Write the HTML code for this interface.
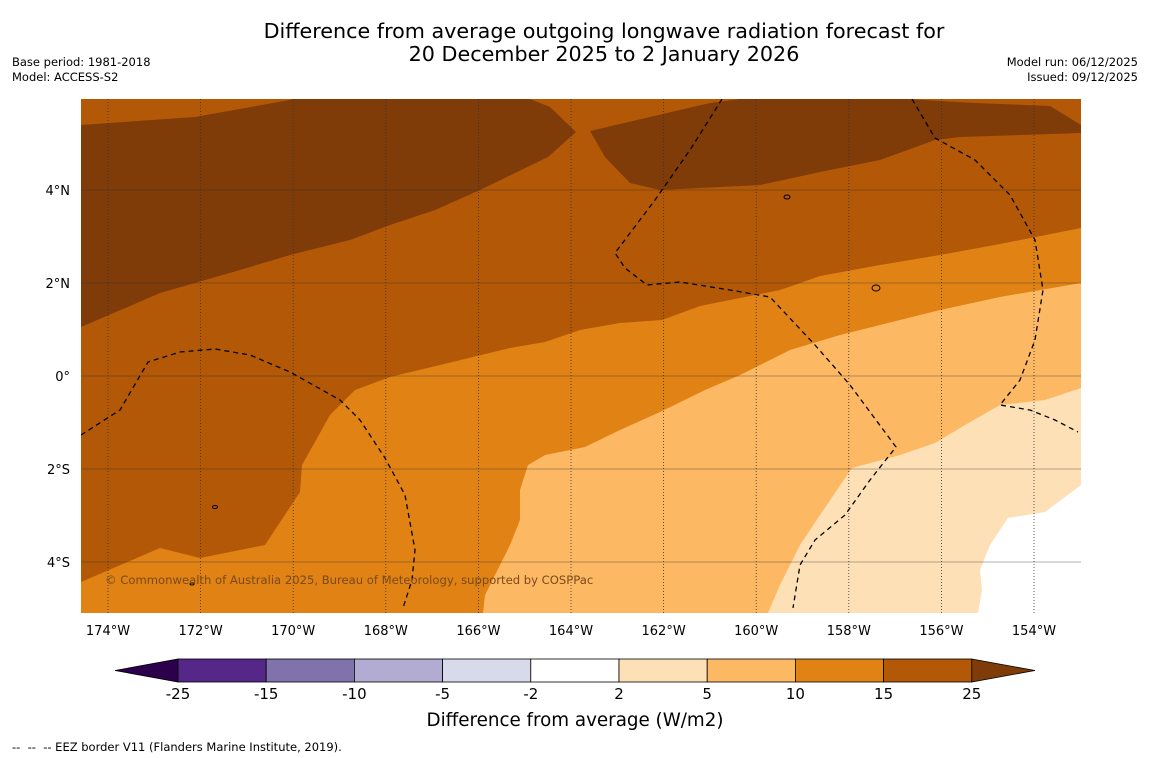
<!DOCTYPE html>
<html><head><meta charset="utf-8"><style>
body{margin:0;background:#fff;width:1150px;height:758px;overflow:hidden;font-family:"DejaVu Sans","Liberation Sans",sans-serif}
svg{position:absolute;left:0;top:0}
</style></head><body>
<svg id="chart" width="1150" height="758">
<text x="604" y="38" text-anchor="middle" font-size="20.7">Difference from average outgoing longwave radiation forecast for</text>
<text x="604" y="61" text-anchor="middle" font-size="20.7">20 December 2025 to 2 January 2026</text>
<text x="12" y="66" font-size="11.5">Base period: 1981-2018</text>
<text x="12" y="81" font-size="11.5">Model: ACCESS-S2</text>
<text x="1138" y="66" font-size="11.5" text-anchor="end">Model run: 06/12/2025</text>
<text x="1138" y="81" font-size="11.5" text-anchor="end">Issued: 09/12/2025</text>
<defs><clipPath id="mc"><rect x="81" y="99" width="1000" height="514"/></clipPath></defs>
<g clip-path="url(#mc)">
<rect x="81" y="99" width="1000" height="514" fill="#b35806"/>
<polygon fill="#7f3b08" points="81,125 195,117 295,99 530,99 550,107 576,132 548,157 480,190 435,210 390,225 350,240 290,255 240,270 160,293 81,327"/>
<polygon fill="#7f3b08" points="590,131 650,117 710,103 740,99 905,99 975,103 1050,106 1081,125 1081,133 960,137 935,140 880,160 820,172 760,185 700,188 660,190 630,183 605,157"/>
<polygon fill="#e08214" points="81,582 160,548 200,558 265,545 300,492 302,465 330,415 355,390 390,377 440,365 510,348 545,342 580,330 620,323 662,320 700,306 780,290 820,276 880,265 940,255 1000,244 1081,228 1081,613 81,613"/>
<polygon fill="#fdb863" points="483,613 485,595 510,545 520,520 520,490 528,465 545,455 585,447 620,430 660,412 705,390 740,375 790,350 840,335 900,320 940,310 1000,297 1081,283 1081,613"/>
<polygon fill="#fee0b6" points="768,613 780,585 800,545 820,515 852,468 900,455 935,443 965,425 1000,405 1045,400 1081,388 1081,613"/>
<polygon fill="#ffffff" points="978,613 982,590 980,570 990,545 1008,518 1045,512 1081,485 1081,613"/>
<g id="grid"></g>
<g fill="none" stroke="#000" stroke-width="1.3" stroke-dasharray="5,4">
<polyline points="81,435 120,410 148,362 180,352 215,349 250,355 290,372 340,400 360,420 385,458 405,495 415,550 412,580 403,608"/>
<polyline points="722,99 690,150 655,200 615,253 625,268 647,285 680,282 730,290 770,297 815,345 850,385 896,447 870,480 845,515 815,540 800,565 793,608"/>
<polyline points="912,99 935,138 975,160 1010,195 1035,240 1043,290 1035,340 1020,380 1000,405 1030,410 1055,420 1078,432"/>
</g>
<g fill="none" stroke="#000" stroke-width="1">
<ellipse cx="787" cy="197" rx="3" ry="2"/><ellipse cx="876" cy="288" rx="4" ry="3"/><ellipse cx="215" cy="507" rx="2.5" ry="1.5"/><ellipse cx="192" cy="584" rx="2" ry="1"/>
</g>
<text x="105" y="584" font-size="11.6" fill="#7a4a1a">© Commonwealth of Australia 2025, Bureau of Meteorology, supported by COSPPac</text>
</g>
<g id="axes"></g>
<g id="cbar"></g>
<text x="575" y="726" text-anchor="middle" font-size="18.3">Difference from average (W/m2)</text>
<text x="12" y="751" font-size="11.5" xml:space="preserve">--  --  -- EEZ border V11 (Flanders Marine Institute, 2019).</text>
</svg>
<script>
const lonTicks=[-174,-172,-170,-168,-166,-164,-162,-160,-158,-156,-154];
const latTicks=[4,2,0,-2,-4];
const cbarLevels=[-25,-15,-10,-5,-2,2,5,10,15,25];
const cbarColors=["#542788","#8073ac","#b2abd2","#d8daeb","#ffffff","#fee0b6","#fdb863","#e08214","#b35806"];
const underColor="#2d004b", overColor="#7f3b08";
const NS="http://www.w3.org/2000/svg";
function X(lon){return 108+(lon+174)*46.3;}
function Y(lat){return 376-lat*46.5;}
function mk(t,a,p){const e=document.createElementNS(NS,t);for(const k in a)e.setAttribute(k,a[k]);p.appendChild(e);return e;}
const grid=document.getElementById('grid'),axes=document.getElementById('axes'),cb=document.getElementById('cbar');
lonTicks.forEach(l=>{
 const ln=mk('line',{x1:X(l),x2:X(l),y1:99,y2:613,stroke:'#333','stroke-width':0.8,'stroke-dasharray':'1,2'},grid);
 
 
 const t=mk('text',{x:X(l),y:635,'text-anchor':'middle','font-size':13},axes);
 t.textContent=Math.abs(l)+'°W';
 
 
});
latTicks.forEach(l=>{
 const ln=mk('line',{x1:81,x2:1081,y1:Y(l),y2:Y(l),stroke:'#333','stroke-opacity':0.5,'stroke-width':0.8},grid);
 
 
 const t=mk('text',{x:70,y:Y(l)+5,'text-anchor':'end','font-size':13},axes);
 t.textContent=l===0?'0°':Math.abs(l)+'°'+(l>0?'N':'S');
 
 
});
const cx0=178,cw=88.2,cy=659,ch=23;
const tu=mk('polygon',{points:`115,670.5 ${cx0},${cy} ${cx0},${cy+ch}`,fill:underColor,stroke:'#000','stroke-width':0.8},cb);


cbarColors.forEach((c,i)=>{
 const r=mk('rect',{x:cx0+i*cw,y:cy,width:cw,height:ch,fill:c,stroke:'#000','stroke-width':0.8},cb);
 
 
});
const xe=cx0+cbarColors.length*cw;
const to=mk('polygon',{points:`${xe},${cy} 1035,670.5 ${xe},${cy+ch}`,fill:overColor,stroke:'#000','stroke-width':0.8},cb);


cbarLevels.forEach((v,i)=>{
 const t=mk('text',{x:cx0+i*cw,y:699,'text-anchor':'middle','font-size':15},cb);
 t.textContent=v;
 
 
});
</script>
</body></html>
